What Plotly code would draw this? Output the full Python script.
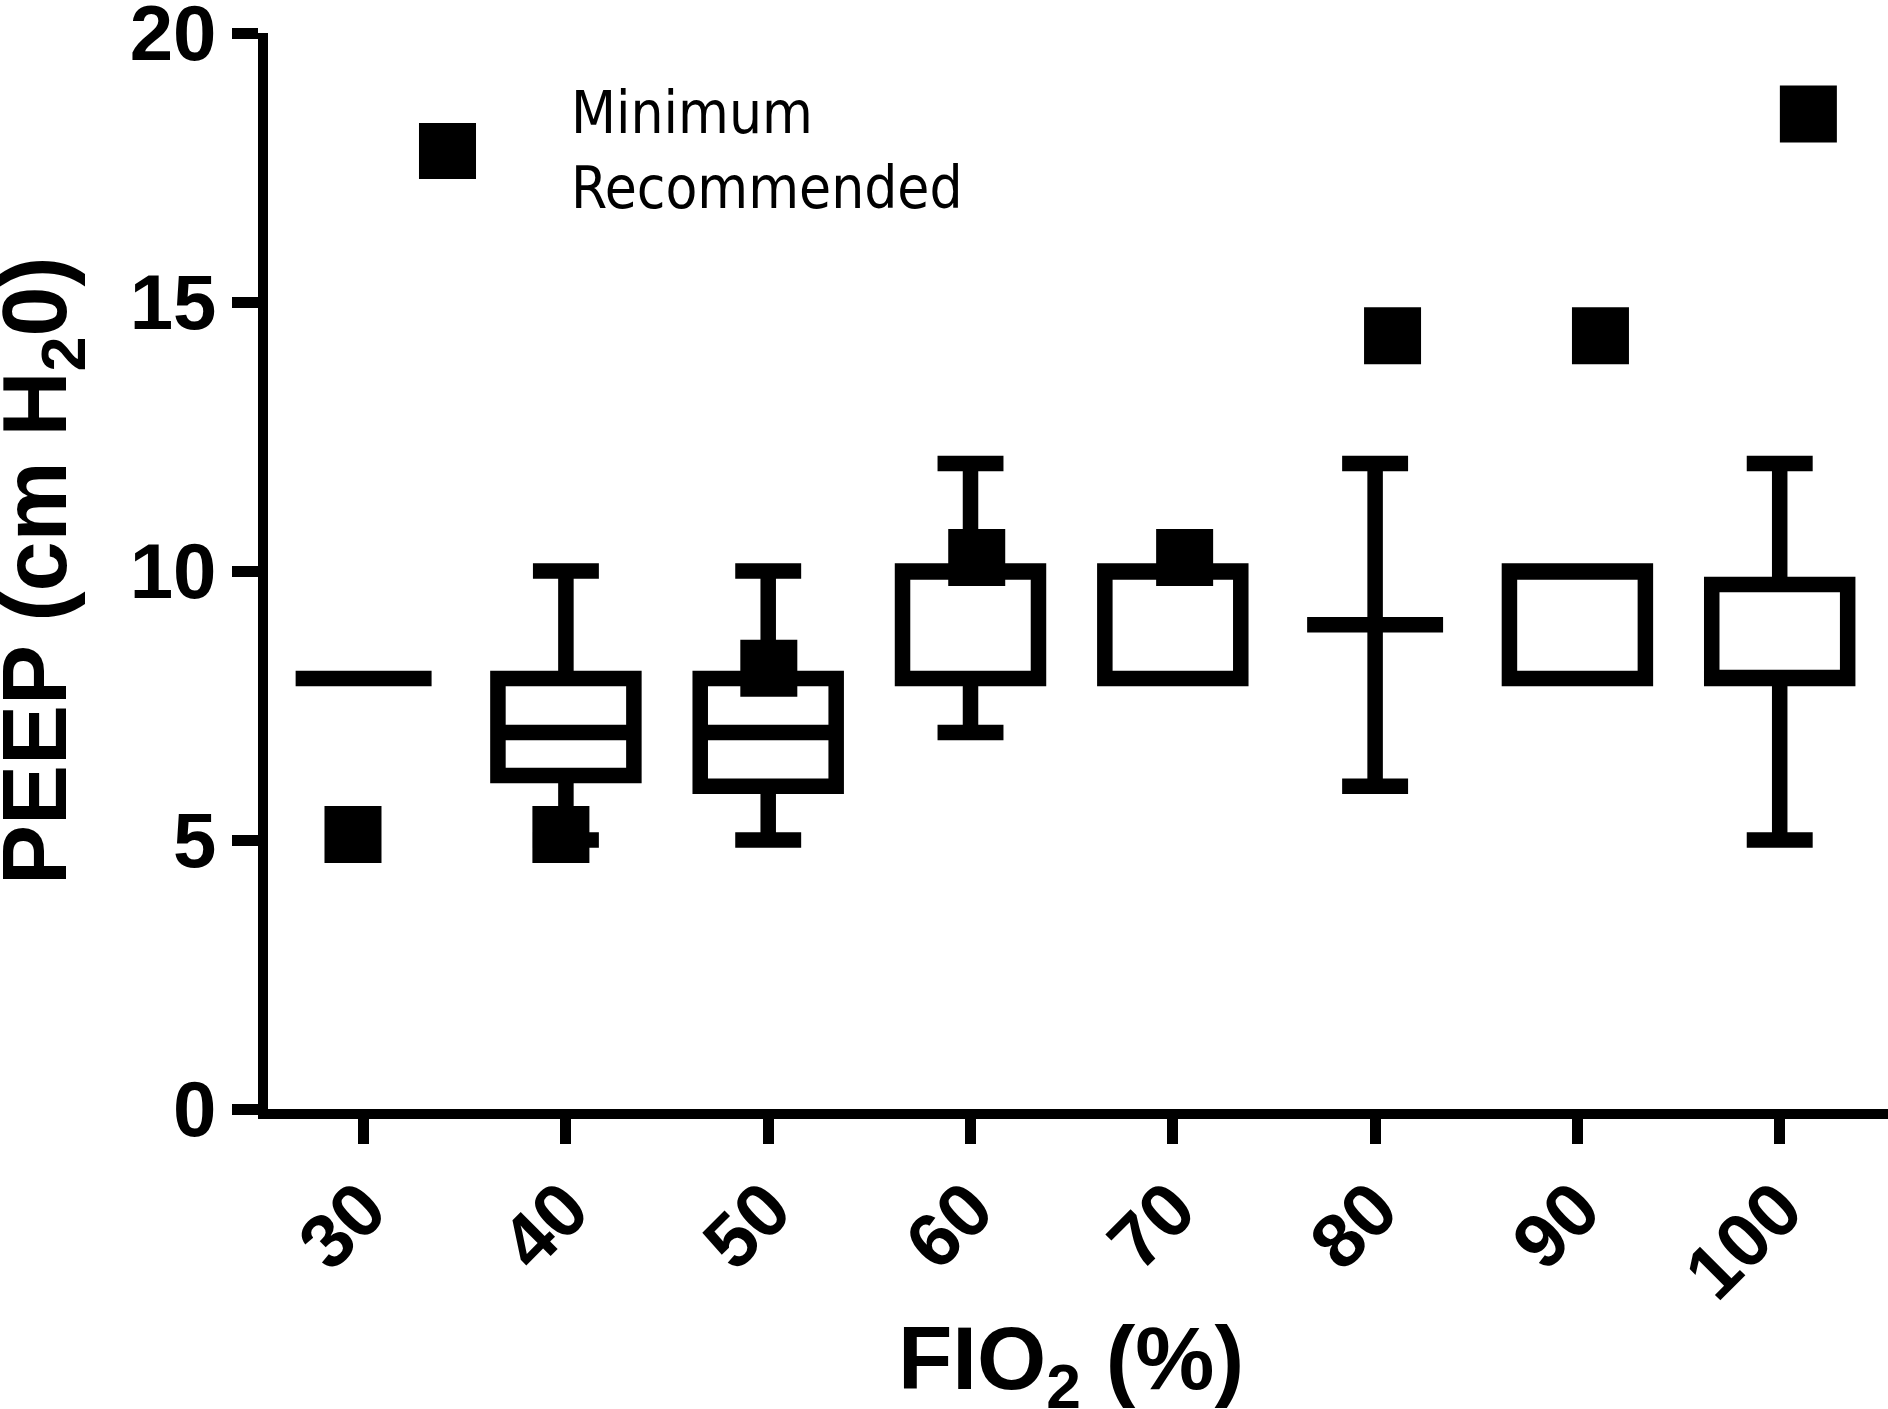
import plotly.graph_objects as go

# ---- data ----
fio2 = ["30", "40", "50", "60", "70", "80", "90", "100"]
peep_min = [8, 5, 5, 7, 8, 6, 8, 5]
peep_q1 = [8, 6.2, 6, 8, 8, 9, 8, 8]
peep_median = [8, 7, 7, 10, 10, 9, 10, 8]
peep_q3 = [8, 8, 8, 10, 10, 9, 10, 9.75]
peep_max = [8, 10, 10, 12, 10, 12, 10, 12]
min_recommended = [5, 5, 8, 10, 10, 14, 14, 18]
y_ticks = [0, 5, 10, 15, 20]

BOLD = "Liberation Sans, Arial, sans-serif"
NARROW = "Liberation Sans Narrow, Arial Narrow, DejaVu Sans Condensed, sans-serif"

fig = go.Figure()

fig.add_trace(go.Box(
    x=fio2,
    q1=peep_q1, median=peep_median, q3=peep_q3,
    lowerfence=peep_min, upperfence=peep_max,
    width=0.672, whiskerwidth=0.485,
    fillcolor="white",
    line=dict(color="black", width=15.5),
    boxpoints=False,
    showlegend=False,
    hoverinfo="skip",
))

fig.add_trace(go.Scatter(
    x=fio2, y=min_recommended,
    xaxis="x2", yaxis="y2",
    mode="markers",
    marker=dict(symbol="square", size=57, color="black", line=dict(width=0)),
    name="Minimum Recommended",
    showlegend=False,
))

# legend key (drawn by hand so the key can be as large as in the original)
fig.add_shape(type="rect", xref="paper", yref="paper",
              x0=0.0932, x1=0.1284, y0=0.8643, y1=0.9164,
              fillcolor="black", line=dict(width=0))
fig.add_annotation(text="Minimum<br>Recommended", xref="paper", yref="paper",
                   x=0.186, y=0.891, xanchor="left", yanchor="middle",
                   align="left", showarrow=False,
                   font=dict(family=NARROW, size=58, color="black"))

# axis titles (placed as annotations so they can sit right at the page edges)
fig.add_annotation(text="PEEP (cm H<sub>2</sub>0)", xref="paper", yref="paper",
                   x=-0.1401, y=0.5, xanchor="center", yanchor="middle",
                   textangle=-90, showarrow=False,
                   font=dict(family=BOLD, size=90, color="black", weight="bold"))
fig.add_annotation(text="FIO<sub>2</sub> (%)", xref="paper", yref="paper",
                   x=0.4957, y=-0.2379, xanchor="center", yanchor="middle",
                   showarrow=False,
                   font=dict(family=BOLD, size=89, color="black", weight="bold"))

fig.update_layout(
    width=1888, height=1409,
    margin=dict(l=268, r=0, t=33, b=300),
    paper_bgcolor="white", plot_bgcolor="white",
    showlegend=False,
    xaxis=dict(
        type="category", categoryorder="array", categoryarray=fio2,
        range=[-0.4726, 7.5353], automargin=False,
        showline=True, linewidth=10, linecolor="black",
        ticks="outside", ticklen=25, tickwidth=10.5, tickcolor="black",
        tickangle=-45, ticklabelstandoff=-10,
        tickfont=dict(family=BOLD, size=76, color="black", weight="bold"),
        showgrid=False, zeroline=False,
    ),
    yaxis=dict(
        range=[0, 20], tickvals=y_ticks, automargin=False,
        ticklabeloverflow="allow",
        showline=True, linewidth=10, linecolor="black",
        ticks="outside", ticklen=26, tickwidth=10.5, tickcolor="black",
        tickfont=dict(family=BOLD, size=78, color="black", weight="bold"),
        showgrid=False, zeroline=False,
    ),
    xaxis2=dict(type="category", categoryorder="array", categoryarray=fio2,
                overlaying="x", anchor="y2", range=[-0.4088, 7.383], visible=False),
    yaxis2=dict(overlaying="y", anchor="x2", range=[0.047, 19.462], visible=False),
)

# the page's default 8px body margin would push the figure off its frame
fig.write_html("out.html", config={"displayModeBar": False},
               post_script="document.body.style.margin='0';")
